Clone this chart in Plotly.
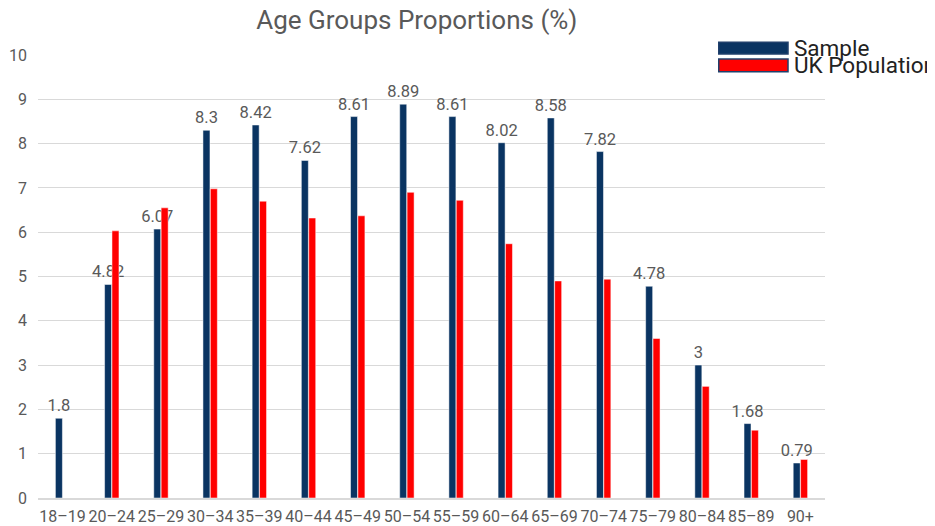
import plotly.graph_objects as go

categories = ["18–19", "20–24", "25–29", "30–34", "35–39", "40–44", "45–49", "50–54",
              "55–59", "60–64", "65–69", "70–74", "75–79", "80–84", "85–89", "90+"]
sample = [1.8, 4.82, 6.07, 8.3, 8.42, 7.62, 8.61, 8.89, 8.61, 8.02, 8.58, 7.82, 4.78, 3, 1.68, 0.79]
uk_population = [0, 6.03, 6.55, 6.98, 6.70, 6.32, 6.37, 6.90, 6.72, 5.74, 4.90, 4.94, 3.60, 2.52, 1.53, 0.87]
sample_labels = ["1.8", "4.82", "6.07", "8.3", "8.42", "7.62", "8.61", "8.89", "8.61", "8.02",
                 "8.58", "7.82", "4.78", "3", "1.68", "0.79"]

BLUE = "#0a3462"
RED = "#ff0000"
GREY = "#595959"
FONT = "Roboto"

fig = go.Figure()
fig.add_trace(go.Bar(
    x=categories, y=sample, name="Sample",
    marker=dict(color=BLUE, line=dict(color="#ffffff", width=0.5)),
    text=sample_labels, textposition="outside", constraintext="none",
    textfont=dict(family=FONT, size=16.5, color=GREY), cliponaxis=False,
    showlegend=False,
))
fig.add_trace(go.Bar(
    x=categories, y=uk_population, name="UK Population",
    marker=dict(color=RED, line=dict(color="#ffffff", width=0.5)),
    showlegend=False,
))

# manual legend (wide swatches)
legend_items = [("Sample", BLUE, 1.029, 1.002), ("UK Population", RED, 0.991, 0.962)]
for name, col, y1, y0 in legend_items:
    fig.add_shape(type="rect", xref="paper", yref="paper", x0=0.865, x1=0.953, y0=y0, y1=y1,
                  fillcolor=col, line=dict(color="#1f3f6b", width=1.5))
    fig.add_annotation(xref="paper", yref="paper", x=0.958, y=(y0 + y1) / 2, text=name,
                       showarrow=False, xanchor="left", yanchor="middle",
                       font=dict(family=FONT, size=22.5, color="#222222"))

fig.update_layout(
    width=927, height=518,
    margin=dict(l=30, r=110, t=47, b=28),
    paper_bgcolor="white", plot_bgcolor="white",
    barmode="group", bargap=0.70, bargroupgap=0.05,
    title=dict(text="Age Groups Proportions (%)", x=0.441, xanchor="center", y=0.978, yanchor="middle",
               font=dict(family=FONT, size=26, color=GREY)),
    font=dict(family=FONT, color=GREY),
    xaxis=dict(tickfont=dict(family=FONT, size=16, color=GREY), showgrid=False, automargin=False,
               showline=True, linecolor="#d9d9d9", linewidth=1.5, ticks="", ticklabelstandoff=3),
    yaxis=dict(range=[0, 10], dtick=1, tickfont=dict(family=FONT, size=16, color=GREY), automargin=False,
               showgrid=True, gridcolor="#d9d9d9", gridwidth=1, zeroline=False,
               showline=False, ticks="", ticklabelstandoff=10),
)

fig.write_html("out.html")
